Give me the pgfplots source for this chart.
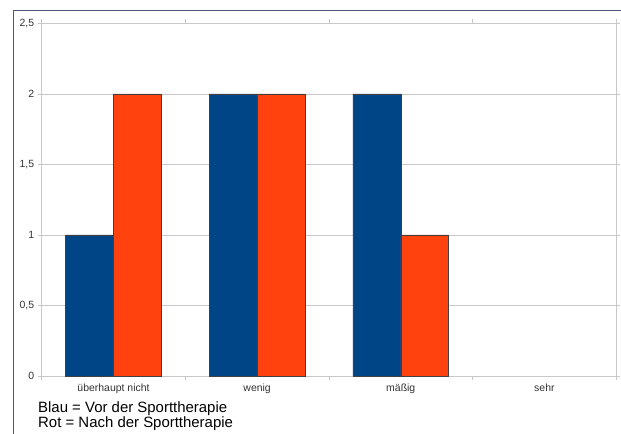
\documentclass[border=0pt]{standalone}
\usepackage{pgfplots}
\pgfplotsset{compat=1.18}
\usepackage{fontspec}
\setmainfont{Liberation Sans}
\definecolor{lblue}{HTML}{004586}
\definecolor{lred}{HTML}{FF420E}
\definecolor{framec}{HTML}{4A5870}
\definecolor{gridc}{HTML}{C8C8C8}
\definecolor{labc}{HTML}{333333}
\begin{document}
\begin{tikzpicture}
\useasboundingbox (0bp,0bp) rectangle (621bp,434bp);
\draw[color=framec, line width=1.1bp] (13.3bp,0bp) -- (13.3bp,423.7bp) -- (621bp,423.7bp);
\begin{axis}[
  at={(41.7bp,58bp)}, anchor=south west,
  scale only axis, width=574.5bp, height=352.5bp,
  xmin=-0.5, xmax=3.5, ymin=0, ymax=2.5,
  ybar=0pt, bar width=0.3333,
  xtick={0,1,2,3},
  xticklabels={überhaupt nicht, wenig, mäßig, sehr},
  minor xtick={-0.5,0.5,1.5,2.5,3.5},
  ytick={0,0.5,1,1.5,2,2.5},
  /pgf/number format/use comma,
  /pgf/number format/assume math mode=true,
  tick align=outside,
  major tick length=3.5bp,
  minor tick length=4bp,
  x tick style={draw=none},
  minor x tick style={draw=gridc, line width=0.8bp},
  y tick style={draw=gridc, line width=0.8bp},
  ymajorgrids,
  major grid style={draw=gridc, line width=0.8bp},
  axis line style={draw=gridc, line width=0.8bp},
  tick label style={font=\fontsize{10.5}{12}\selectfont, text=labc},
  yticklabel style={xshift=-0.5bp},
  xticklabel style={yshift=-0.5bp},
  clip=false,
]
% "sehr" has value 0 in both series (no bar drawn)
\addplot[fill=lblue, draw=black!75, line width=0.4bp] coordinates {(0,1) (1,2) (2,2)};
\addplot[fill=lred, draw=black!75, line width=0.4bp] coordinates {(0,2) (1,2) (2,1)};
\end{axis}
\draw[gridc, line width=1.6bp] (616.5bp,58bp) -- (616.5bp,410.5bp);
\node[anchor=base west, inner sep=0, font=\fontsize{15}{17}\selectfont] at (38bp,21.5bp) {Blau = Vor der Sporttherapie};
\node[anchor=base west, inner sep=0, font=\fontsize{15}{17}\selectfont] at (38bp,7bp) {Rot = Nach der Sporttherapie};
\end{tikzpicture}
\end{document}
